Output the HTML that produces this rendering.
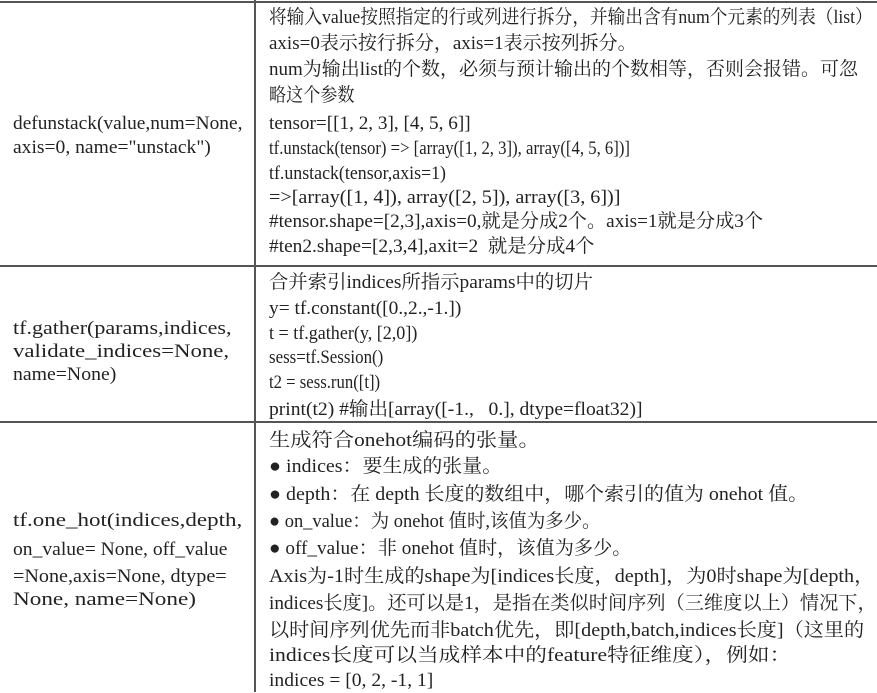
<!DOCTYPE html>
<html><head><meta charset="utf-8"><style>
body{margin:0;width:877px;height:692px;background:#fff;position:relative;overflow:hidden;font-family:"Liberation Serif","Noto Serif CJK SC",serif;font-size:19px;color:#222}
.l{position:absolute;white-space:nowrap;line-height:24px;transform-origin:0 50%}
.h{position:absolute;left:0;width:877px;height:2px;background:#555}
.v{position:absolute;left:254px;width:2px;top:0;height:692px;background:#555}
</style></head><body>
<div class="h" style="top:1px"></div>
<div class="h" style="top:265px"></div>
<div class="h" style="top:421px"></div>
<div class="v"></div>

<div class="l" style="left:13px;top:112px;transform:scaleX(1.02)">defunstack(value,num=None,</div>
<div class="l" style="left:13px;top:136px;transform:scaleX(1.03)">axis=0, name="unstack")</div>

<div class="l" style="left:269px;top:6px;transform:scaleX(0.93)">将输入value按照指定的行或列进行拆分，并输出含有num个元素的列表（list）</div>
<div class="l" style="left:269px;top:32px;transform:scaleX(1.0)">axis=0表示按行拆分，axis=1表示按列拆分。</div>
<div class="l" style="left:269px;top:58px;transform:scaleX(1.0)">num为输出list的个数，必须与预计输出的个数相等，否则会报错。可忽</div>
<div class="l" style="left:269px;top:84px;transform:scaleX(0.9)">略这个参数</div>
<div class="l" style="left:269px;top:112px;transform:scaleX(1.01)">tensor=[[1, 2, 3], [4, 5, 6]]</div>
<div class="l" style="left:269px;top:137px;transform:scaleX(0.88)">tf.unstack(tensor) =&gt; [array([1, 2, 3]), array([4, 5, 6])]</div>
<div class="l" style="left:269px;top:162px;transform:scaleX(0.94)">tf.unstack(tensor,axis=1)</div>
<div class="l" style="left:269px;top:186px;transform:scaleX(1.06)">=&gt;[array([1, 4]), array([2, 5]), array([3, 6])]</div>
<div class="l" style="left:269px;top:210px;transform:scaleX(1.01)">#tensor.shape=[2,3],axis=0,就是分成2个。axis=1就是分成3个</div>
<div class="l" style="left:269px;top:235px;transform:scaleX(1.02)">#ten2.shape=[2,3,4],axit=2 &nbsp;就是分成4个</div>

<div class="l" style="left:13px;top:317px;transform:scaleX(1.16)">tf.gather(params,indices,</div>
<div class="l" style="left:13px;top:340px;transform:scaleX(1.2)">validate_indices=None,</div>
<div class="l" style="left:13px;top:363px;transform:scaleX(1.04)">name=None)</div>

<div class="l" style="left:269px;top:271px;transform:scaleX(1.02)">合并索引indices所指示params中的切片</div>
<div class="l" style="left:269px;top:297px;transform:scaleX(1.02)">y= tf.constant([0.,2.,-1.])</div>
<div class="l" style="left:269px;top:322px;transform:scaleX(0.95)">t = tf.gather(y, [2,0])</div>
<div class="l" style="left:269px;top:346px;transform:scaleX(0.89)">sess=tf.Session()</div>
<div class="l" style="left:269px;top:371px;transform:scaleX(0.88)">t2 = sess.run([t])</div>
<div class="l" style="left:269px;top:398px;transform:scaleX(1.03)">print(t2) #输出[array([-1., &nbsp;&nbsp;0.], dtype=float32)]</div>

<div class="l" style="left:13px;top:509px;transform:scaleX(1.21)">tf.one_hot(indices,depth,</div>
<div class="l" style="left:13px;top:538px;transform:scaleX(1.03)">on_value= None, off_value</div>
<div class="l" style="left:13px;top:565px;transform:scaleX(1.06)">=None,axis=None, dtype=</div>
<div class="l" style="left:13px;top:588px;transform:scaleX(1.22)">None, name=None)</div>

<div class="l" style="left:269px;top:429px;transform:scaleX(1.12)">生成符合onehot编码的张量。</div>
<div class="l" style="left:269px;top:455px;transform:scaleX(1.05)">● indices：要生成的张量。</div>
<div class="l" style="left:269px;top:483px;transform:scaleX(1.05)">● depth：在 depth 长度的数组中，哪个索引的值为 onehot 值。</div>
<div class="l" style="left:269px;top:510px;transform:scaleX(0.97)">● on_value：为 onehot 值时,该值为多少。</div>
<div class="l" style="left:269px;top:537px;transform:scaleX(1.01)">● off_value：非 onehot 值时，该值为多少。</div>
<div class="l" style="left:269px;top:565px;transform:scaleX(1.06)">Axis为-1时生成的shape为[indices长度，depth]，为0时shape为[depth，</div>
<div class="l" style="left:269px;top:592px;transform:scaleX(1.01)">indices长度]。还可以是1，是指在类似时间序列（三维度以上）情况下，</div>
<div class="l" style="left:269px;top:619px;transform:scaleX(1.06)">以时间序列优先而非batch优先，即[depth,batch,indices长度]（这里的</div>
<div class="l" style="left:269px;top:644px;transform:scaleX(1.14)">indices长度可以当成样本中的feature特征维度），例如：</div>
<div class="l" style="left:269px;top:669px;transform:scaleX(1.03)">indices = [0, 2, -1, 1]</div>
</body></html>
